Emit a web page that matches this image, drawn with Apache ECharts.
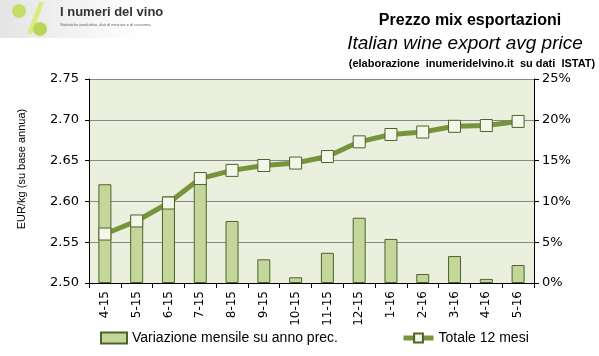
<!DOCTYPE html>
<html><head><meta charset="utf-8">
<script src="https://cdn.jsdelivr.net/npm/echarts@6/dist/echarts.min.js"></script>
<style>html,body{margin:0;padding:0;background:#fff}#c{width:599px;height:356px}</style>
</head><body><div id="c"></div>
<script>
var categories = ['4-15','5-15','6-15','7-15','8-15','9-15','10-15','11-15','12-15','1-16','2-16','3-16','4-16','5-16'];
var variazione = [12.1, 7.9, 10.6, 12.4, 7.6, 2.9, 0.7, 3.7, 8.0, 5.4, 1.1, 3.3, 0.5, 2.2];
var totale12 = [2.560, 2.576, 2.598, 2.628, 2.638, 2.644, 2.647, 2.655, 2.673, 2.682, 2.685, 2.692, 2.693, 2.698];
var leftTicks = [2.50, 2.75, 0.05];
var rightTicks = [0, 25, 5];

var chart = echarts.init(document.getElementById('c'));
chart.setOption({
  animation: false,
  backgroundColor: '#ffffff',
  graphic: [
    {type:'rect', left:0, top:0, shape:{width:140, height:38}, style:{fill:new echarts.graphic.LinearGradient(0,0,1,0,[{offset:0,color:'#e4e4e4'},{offset:1,color:'#ffffff'}])}, z:-1},
    {type:'circle', shape:{cx:19, cy:11, r:7}, style:{fill:'#c5de6a'}},
    {type:'polygon', shape:{points:[[27,34],[32,34],[44,2],[39,2]]}, style:{fill:'#d7ec7c'}},
    {type:'circle', shape:{cx:40, cy:29, r:7}, style:{fill:'#b9d65a'}},
    {type:'text', left:60, top:6, style:{text:'I numeri del vino', font:'bold 13px "Liberation Sans", Arial', fill:'#333'}},
    {type:'text', left:60, top:23, style:{text:'Statistiche produttive, dati di mercato e di consumo.', font:'4px "Liberation Sans", Arial', fill:'#666'}},
    {type:'text', x:22, y:169, rotation:Math.PI/2, style:{text:'EUR/kg (su base annua)', font:'11px "Liberation Sans", Arial', fill:'#000', textAlign:'center', textVerticalAlign:'middle'}}
  ],
  title: [
    {text:'Prezzo mix esportazioni', left:465, top:8, textAlign:'center', textStyle:{fontFamily:'"Liberation Sans", Arial', fontWeight:'bold', fontSize:16, color:'#000'}},
    {text:'Italian wine export avg price', left:460, top:29, textAlign:'center', textStyle:{fontFamily:'"Liberation Sans", Arial', fontStyle:'italic', fontWeight:'normal', fontSize:19, color:'#000'}},
    {text:'(elaborazione  inumeridelvino.it  su dati  ISTAT)', left:467, top:53, textAlign:'center', textStyle:{fontFamily:'"Liberation Sans", Arial', fontWeight:'bold', fontSize:11, color:'#000'}}
  ],
  grid: {left:89, right:65, top:79, bottom:73, show:true, backgroundColor:'#ebf0de', borderWidth:0},
  legend: [
    {data:[{name:'Variazione mensile su anno prec.', icon:'rect'}], left:100, top:331, padding:0, itemWidth:26, itemHeight:11,
     textStyle:{fontFamily:'"Liberation Sans", Arial', fontSize:14, color:'#000'}},
    {data:[{name:'Totale 12 mesi', lineStyle:{width:5, color:'#77933c'}}], left:401, top:331, padding:0, itemWidth:30, itemHeight:11,
     textStyle:{fontFamily:'"Liberation Sans", Arial', fontSize:14, color:'#000'}}
  ],
  xAxis: {type:'category', data:categories, boundaryGap:true,
    axisLine:{lineStyle:{color:'#000'}}, axisTick:{show:true, alignWithLabel:false, length:5, lineStyle:{color:'#000'}},
    axisLabel:{rotate:90, interval:0, fontFamily:'"DejaVu Sans", Verdana', fontSize:12, color:'#000', margin:8}},
  yAxis: [
    {type:'value', min:leftTicks[0], max:leftTicks[1], interval:leftTicks[2],
     axisLine:{show:true, lineStyle:{color:'#000'}}, axisTick:{show:true, length:4, lineStyle:{color:'#000'}},
     axisLabel:{formatter:function(v){return v.toFixed(2);}, fontFamily:'"DejaVu Sans", Verdana', fontSize:13, color:'#000', margin:10},
     splitLine:{lineStyle:{color:'#888', width:1}}},
    {type:'value', min:rightTicks[0], max:rightTicks[1], interval:rightTicks[2], position:'right',
     axisLine:{show:true, lineStyle:{color:'#000'}}, axisTick:{show:true, length:5, lineStyle:{color:'#000'}},
     axisLabel:{formatter:'{value}%', fontFamily:'"DejaVu Sans", Verdana', fontSize:13, color:'#000', margin:8},
     splitLine:{show:false}}
  ],
  series: [
    {name:'Variazione mensile su anno prec.', type:'bar', yAxisIndex:1, data:variazione, barWidth:13,
     itemStyle:{color:'#c4d79b', borderColor:'#4f6228', borderWidth:1}},
    {name:'Totale 12 mesi', type:'line', yAxisIndex:0, data:totale12, symbol:'rect', symbolSize:12,
     lineStyle:{color:'#77933c', width:5},
     itemStyle:{color:'#f4f6ea', borderColor:'#4f6228', borderWidth:1}}
  ]
});
</script></body></html>
